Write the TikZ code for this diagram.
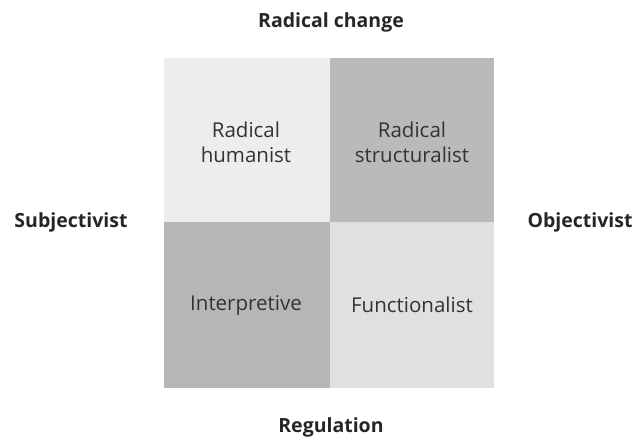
\documentclass[tikz,border=0pt]{standalone}
\usepackage{fontspec}
\setmainfont{Open Sans}
\begin{document}
\begin{tikzpicture}[x=1pt,y=-1pt,
  axislabel/.style={font=\fontsize{19.5}{22}\selectfont\bfseries, text=black!85, inner sep=0},
  quadlabel/.style={font=\fontsize{20.5}{25}\selectfont, text=black!80, align=center, inner sep=0},
  quad/.style={draw=none}]
\useasboundingbox (0,0) rectangle (636,444);
\definecolor{tl}{HTML}{EDEDED}
\definecolor{tr}{HTML}{BABABA}
\definecolor{bl}{HTML}{B6B6B6}
\definecolor{br}{HTML}{E0E0E0}
\fill[tl] (164,58) rectangle (330,222);
\fill[tr] (330,58) rectangle (494,222);
\fill[bl] (164,222) rectangle (330,388);
\fill[br] (330,222) rectangle (494,388);
\node[quadlabel] (rh) at (246,142) {Radical\\humanist};
\node[quadlabel] (rs) at (412,142) {Radical\\structuralist};
\node[quadlabel] (ip) at (246,305) {Interpretive};
\node[quadlabel] (fn) at (412,305) {Functionalist};
\node[axislabel] (top) at (331,22) {Radical change};
\node[axislabel] (bot) at (331,427) {Regulation};
\node[axislabel] (lft) at (71,222) {Subjectivist};
\node[axislabel] (rgt) at (580,222) {Objectivist};
\end{tikzpicture}
\end{document}
